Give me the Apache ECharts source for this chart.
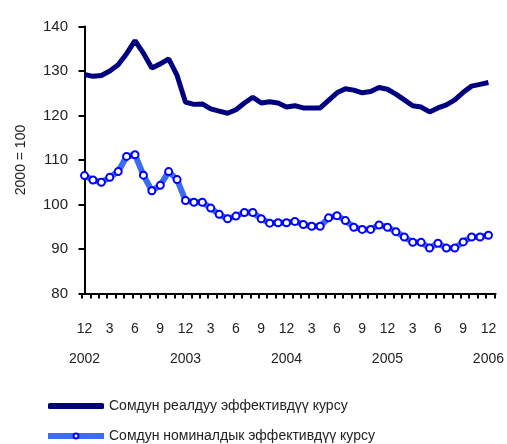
<!DOCTYPE html>
<html>
<head>
<meta charset="utf-8">
<style>
  * { margin: 0; padding: 0; }
  #container { width: 507px; height: 444px; }
</style>
</head>
<body>
<div id="container"></div>
<script src="https://cdn.jsdelivr.net/npm/echarts@6/dist/echarts.min.js"></script>
<script>
    // month labels, Dec 2001 .. Dec 2005 (49 months)
    var monthLabels = ['12','1','2','3','4','5','6','7','8','9','10','11',
                       '12','1','2','3','4','5','6','7','8','9','10','11',
                       '12','1','2','3','4','5','6','7','8','9','10','11',
                       '12','1','2','3','4','5','6','7','8','9','10','11','12'];
    var yearLabels = { 0: '2002', 12: '2003', 24: '2004', 36: '2005', 48: '2006' };

    var realName = 'Сомдун реалдуу эффективдүү курсу';
    var nominalName = 'Сомдун номиналдык эффективдүү курсу';

    var realValues = [129.2, 128.8, 129.0, 130.0, 131.4, 133.9, 136.8, 134.0, 130.7, 131.6, 132.7, 129.0,
                      123.0, 122.5, 122.6, 121.5, 121.0, 120.5, 121.3, 122.8, 124.1, 122.8, 123.1, 122.8,
                      121.9, 122.2, 121.7, 121.7, 121.7, 123.4, 125.1, 126.0, 125.7, 125.1, 125.4, 126.3,
                      125.9, 124.8, 123.5, 122.2, 121.9, 120.8, 121.7, 122.4, 123.5, 125.2, 126.6, 127.0, 127.4];
    var nominalValues = [106.5, 105.5, 105.0, 106.1, 107.4, 110.8, 111.2, 106.6, 103.1, 104.3, 107.4, 105.6,
                         100.9, 100.5, 100.5, 99.2, 97.8, 96.8, 97.4, 98.2, 98.2, 96.8, 95.8, 95.9,
                         95.9, 96.2, 95.5, 95.1, 95.1, 97.0, 97.5, 96.4, 94.9, 94.4, 94.4, 95.4,
                         94.9, 93.9, 92.7, 91.5, 91.5, 90.2, 91.3, 90.2, 90.2, 91.6, 92.7, 92.7, 93.1];

    var font = "'Liberation Sans', Arial, sans-serif";

    function pairs(vals) {
        return vals.map(function (v, i) { return [i, v]; });
    }

    function monthAxis(idx, offset, fmt) {
        return {
            type: 'value',
            position: 'bottom',
            offset: offset,
            min: -0.3,
            max: 48.85,
            interval: 1,
            splitLine: { show: false },
            axisLine: { show: idx === 0, lineStyle: { color: '#000', width: 2 } },
            axisTick: { show: idx === 0, inside: false, length: 5, lineStyle: { color: '#000', width: 2 } },
            axisLabel: {
                margin: 29,
                padding: [0, 0, 0, 5],
                fontSize: 14,
                color: '#222',
                showMaxLabel: false,
                formatter: fmt
            }
        };
    }

    var myChart = echarts.init(document.getElementById('container'));
    var option = {
        animation: false,
        textStyle: { fontFamily: font },
        grid: { left: 82, right: 11, top: 26.5, bottom: 150.5 },
        legend: [{
            left: 43,
            top: 394,
            itemWidth: 56,
            itemHeight: 6,
            textStyle: { fontFamily: font, fontSize: 14, color: '#222' },
            data: [{ name: realName, icon: 'roundRect' }]
        }, {
            left: 40,
            top: 424,
            itemWidth: 56,
            itemHeight: 6,
            lineStyle: { width: 6 },
            textStyle: { fontFamily: font, fontSize: 14, color: '#222' },
            data: [nominalName]
        }],
        xAxis: [
            monthAxis(0, 0, function (v) {
                var k = Math.round(v + 0.3);
                return k % 3 === 0 ? monthLabels[k] : '';
            }),
            monthAxis(1, 30, function (v) {
                var k = Math.round(v + 0.3);
                return yearLabels[k] || '';
            })
        ],
        yAxis: {
            type: 'value',
            min: 80,
            max: 140,
            interval: 10,
            name: '2000 = 100',
            nameLocation: 'middle',
            nameGap: 54,
            nameRotate: 90,
            nameTextStyle: { fontFamily: font, fontSize: 14, color: '#222' },
            splitLine: { show: false },
            axisLine: { show: true, lineStyle: { color: '#000', width: 2 } },
            axisTick: { show: true, length: 6, lineStyle: { color: '#000', width: 2 } },
            axisLabel: { margin: 14, fontSize: 15, color: '#222' }
        },
        series: [{
            name: realName,
            type: 'line',
            data: pairs(realValues),
            showSymbol: false,
            symbol: 'none',
            lineStyle: { color: '#000080', width: 5 },
            itemStyle: { color: '#000080' }
        }, {
            name: nominalName,
            type: 'line',
            data: pairs(nominalValues),
            symbol: 'circle',
            symbolSize: 7,
            lineStyle: { color: '#3c6cf2', width: 6 },
            itemStyle: { color: '#fff', borderColor: '#0000ff', borderWidth: 2 }
        }]
    };
    myChart.setOption(option);
</script>
</body>
</html>
